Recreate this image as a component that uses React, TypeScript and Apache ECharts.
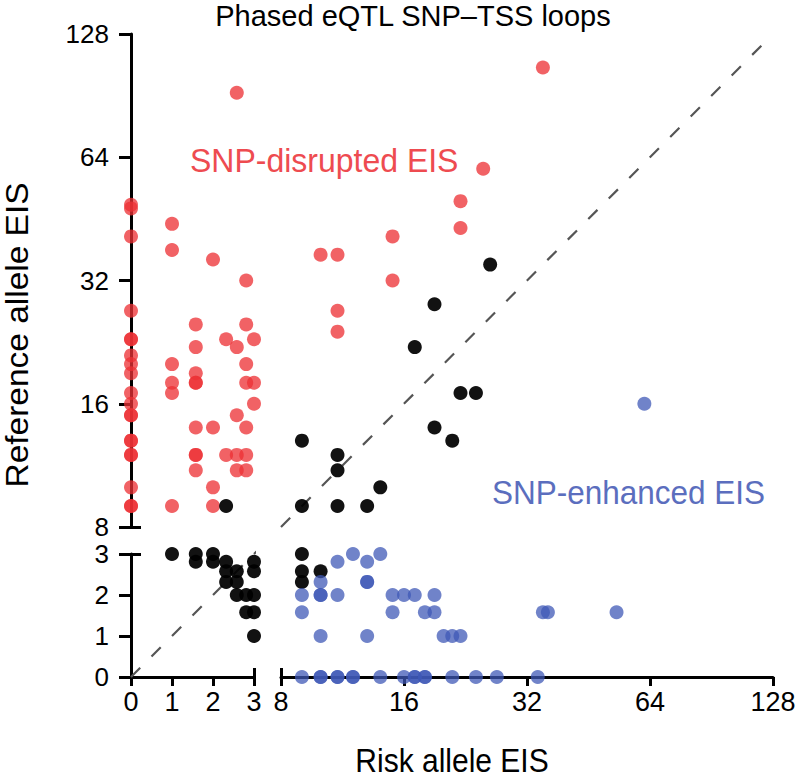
import React, { useEffect, useRef } from "react";
import * as echarts from "echarts";

// ---- tick labels ----
const linearTicks = [0, 1, 2, 3];
const logTicks = [8, 16, 32, 64, 128];

// ---- data: [risk allele EIS, reference allele EIS] ----
// SNP-disrupted (red)
const disrupted: number[][] = [
  [0, 49], [0, 48], [0, 41], [0, 27], [0, 23], [0, 23], [0, 21], [0, 20], [0, 19], [0, 17],
  [0, 16], [0, 15], [0, 15], [0, 13], [0, 13], [0, 12], [0, 12], [0, 10], [0, 9], [0, 9],
  [1, 44], [1, 38], [1, 20], [1, 18], [1, 17], [1, 9],
  [1.58, 25], [1.58, 22], [1.58, 19], [1.58, 18], [1.58, 18], [1.58, 14], [1.58, 12], [1.58, 12], [1.58, 11],
  [2, 36], [2, 14], [2, 10], [2, 9],
  [2.32, 23], [2.32, 12],
  [2.58, 92], [2.58, 22], [2.58, 15], [2.58, 12], [2.58, 11],
  [2.81, 32], [2.81, 25], [2.81, 20], [2.81, 18], [2.81, 14], [2.81, 12], [2.81, 11],
  [3, 23], [3, 18], [3, 16],
  [10, 37], [11, 37], [15, 41], [15, 32], [11, 27], [11, 24], [22, 50], [22, 43], [25, 60], [35, 106],
];

// unchanged (black)
const unchanged: number[][] = [
  [1, 3], [1.58, 3], [1.58, 2.81], [2, 3], [2, 2.81], [2.32, 2.81], [2.32, 2.58], [2.32, 2.32],
  [2.58, 2.58], [2.58, 2.32], [2.58, 2], [2.81, 2], [3, 2.81], [3, 2.58], [3, 2], [2.81, 1.58], [3, 1.58], [3, 1],
  [2.32, 9],
  [9, 3], [9, 2.58], [9, 2.32], [10, 2.58],
  [26, 35], [19, 28], [17, 22], [22, 17], [24, 17], [19, 14], [21, 13], [9, 13], [11, 12], [11, 11],
  [14, 10], [9, 9], [11, 9], [13, 9],
];

// SNP-enhanced (blue)
const enhanced: number[][] = [
  [9, 2], [10, 2], [10, 2], [9, 1.58], [10, 2.32], [11, 2.81], [11, 2], [12, 3], [13, 2.81], [13, 2.32], [13, 2.32],
  [14, 3], [10, 1], [13, 1], [15, 2], [16, 2], [17, 2], [19, 2], [15, 1.58], [18, 1.58], [19, 1.58],
  [20, 1], [21, 1], [22, 1], [35, 1.58], [36, 1.58], [53, 1.58],
  [9, 0], [10, 0], [10, 0], [11, 0], [11, 0], [12, 0], [12, 0], [14, 0], [16, 0], [17, 0], [17, 0],
  [18, 0], [18, 0], [21, 0], [24, 0], [27, 0], [34, 0],
  [62, 16],
];

// identity line y = x (lower segment bridges the axis break)
const diagLow: number[][] = [[0, 0], [3.65, 3.65]];
const diagHigh: number[][] = [[8, 8], [120, 120]];

const FONT = "'Liberation Sans', Arial, Helvetica, sans-serif";

export default function App() {
  const ref = useRef<HTMLDivElement>(null);

  useEffect(() => {
    document.body.style.margin = "0";
    if (!ref.current) return;
    const chart = echarts.init(ref.current, undefined, { renderer: "svg" });

    const L0 = 131, W0 = 123; // linear x part
    const L1 = 281, W1 = 492; // log x part
    const T1 = 34, H1 = 493; // log y part
    const T0 = 554, H0 = 123; // linear y part

    const grids = [
      { left: L0, top: T0, width: W0, height: H0 },
      { left: L1, top: T0, width: W1, height: H0 },
      { left: L0, top: T1, width: W0, height: H1 },
      { left: L1, top: T1, width: W1, height: H1 },
    ].map((g) => ({ ...g, containLabel: false, outerBoundsMode: "none", show: false }));

    const lineStyle = { color: "#000", width: 3 };
    const tickStyle = { show: true, inside: false, length: 9, lineStyle: { color: "#000", width: 3 } };
    const xLabel = { show: true, color: "#000", fontSize: 27, fontFamily: FONT, margin: 11 };
    const yLabel = { show: true, color: "#000", fontSize: 26, fontFamily: FONT, margin: 22, lineHeight: 20 };

    const linX = { type: "value", min: linearTicks[0], max: linearTicks[linearTicks.length - 1], interval: 1 };
    const logX = { type: "log", logBase: 2, min: logTicks[0], max: logTicks[logTicks.length - 1] };
    const hiddenCommon = { show: false, splitLine: { show: false } };
    const capTick = (v: number, len: number) => ({
      show: true, inside: true, length: len, customValues: [v], lineStyle: { color: "#000", width: 3 },
    });

    const xAxis: any[] = [
      { ...linX, gridIndex: 0, position: "bottom", axisLine: { show: true, lineStyle }, axisTick: tickStyle, axisLabel: xLabel, splitLine: { show: false } },
      { ...logX, gridIndex: 1, position: "bottom", axisLine: { show: true, lineStyle }, axisTick: tickStyle, axisLabel: xLabel, splitLine: { show: false } },
      { ...linX, gridIndex: 2, ...hiddenCommon },
      { ...logX, gridIndex: 3, ...hiddenCommon },
      { ...linX, gridIndex: 0, position: "bottom", axisLine: { show: false }, axisLabel: { show: false }, splitLine: { show: false }, axisTick: capTick(3, 9) },
      { ...logX, gridIndex: 1, position: "bottom", axisLine: { show: false }, axisLabel: { show: false }, splitLine: { show: false }, axisTick: capTick(8, 9) },
    ];
    const yTick = { ...tickStyle, length: 12 };
    const yAxis: any[] = [
      { ...linX, gridIndex: 0, position: "left", axisLine: { show: true, lineStyle }, axisTick: yTick, axisLabel: yLabel, splitLine: { show: false } },
      { ...linX, gridIndex: 1, ...hiddenCommon },
      { ...logX, gridIndex: 2, position: "left", axisLine: { show: true, lineStyle }, axisTick: yTick, axisLabel: yLabel, splitLine: { show: false } },
      { ...logX, gridIndex: 3, ...hiddenCommon },
      { ...linX, gridIndex: 0, position: "left", axisLine: { show: false }, axisLabel: { show: false }, splitLine: { show: false }, axisTick: capTick(3, 10) },
      { ...logX, gridIndex: 2, position: "left", axisLine: { show: false }, axisLabel: { show: false }, splitLine: { show: false }, axisTick: capTick(8, 10) },
    ];

    const quadrant = (p: number[]) => (p[0] > 3 ? 1 : 0) + (p[1] > 3 ? 2 : 0);
    const groups = [
      { name: "disrupted", data: disrupted, color: "rgba(236,48,52,0.76)" },
      { name: "unchanged", data: unchanged, color: "rgba(0,0,0,0.93)" },
      { name: "enhanced", data: enhanced, color: "rgba(62,88,182,0.74)" },
    ];
    const series: any[] = [];
    const dashStyle = { color: "#555", width: 2.2, type: [13, 16] };
    series.push({ type: "line", xAxisIndex: 0, yAxisIndex: 0, data: diagLow, symbol: "none", clip: false, lineStyle: dashStyle, z: 1, silent: true });
    series.push({ type: "line", xAxisIndex: 3, yAxisIndex: 3, data: diagHigh, symbol: "none", clip: false, lineStyle: dashStyle, z: 1, silent: true });
    groups.forEach((g) => {
      for (let q = 0; q < 4; q++) {
        const d = g.data.filter((p) => quadrant(p) === q);
        if (!d.length) continue;
        series.push({
          type: "scatter", name: g.name, xAxisIndex: q, yAxisIndex: q, data: d,
          symbol: "circle", symbolSize: 14, clip: false, z: 3,
          itemStyle: { color: g.color, opacity: 1 }, silent: true,
        });
      }
    });

    const txt = (text: string, x: number, y: number, size: number, fill: string, align: string, extra: any = {}) => ({
      type: "text", x, y, ...extra,
      style: { text, font: `${size}px ${FONT}`, fill, textAlign: align, textVerticalAlign: "middle", lineHeight: size },
    });

    chart.setOption({
      animation: false,
      backgroundColor: "#fff",
      grid: grids,
      xAxis,
      yAxis,
      series,
      graphic: [
        txt("Phased eQTL SNP\u2013TSS loops", 413, 16, 29, "#000", "center"),
        txt("Risk allele EIS", 452, 761, 30, "#000", "center", { scaleY: 1.08 }),
        txt("Reference allele EIS", 17, 335, 31, "#000", "center", { rotation: Math.PI / 2, scaleX: 1.08 }),
        txt("SNP-disrupted EIS", 190, 160, 32, "#EE4B50", "left", { scaleY: 1.05 }),
        txt("SNP-enhanced EIS", 492, 493, 31.5, "#5B6EBE", "left", { scaleY: 1.05 }),
      ],
    });

    return () => chart.dispose();
  }, []);

  return <div ref={ref} style={{ width: 800, height: 779 }} />;
}
